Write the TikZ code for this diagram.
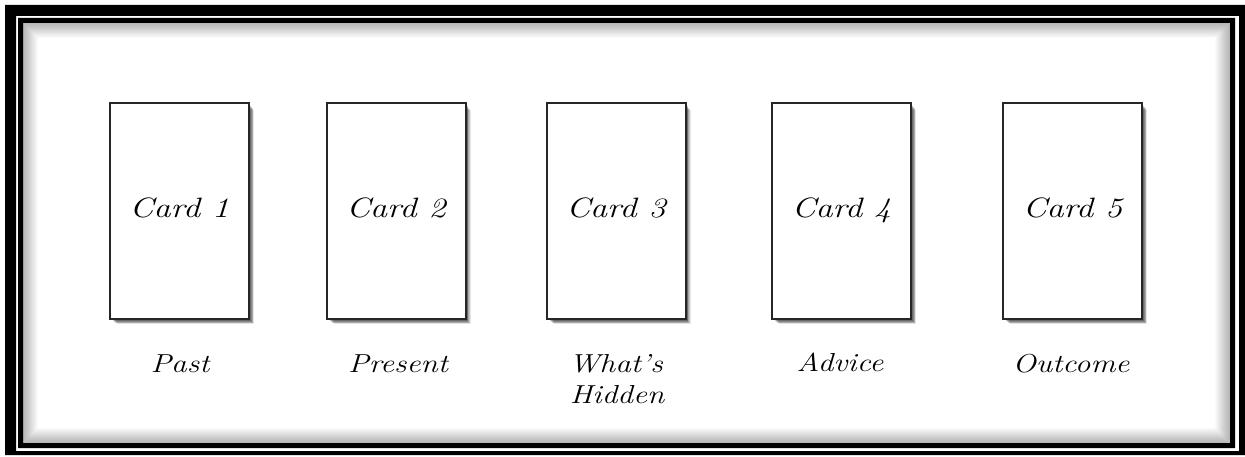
\documentclass[tikz,border=0pt]{standalone}
\usepackage{fontspec}
\begin{document}
\begin{tikzpicture}[x=1pt,y=-1pt,
  cardbox/.style={draw=black!85, line width=2pt, fill=white},
  cardtext/.style={font=\fontsize{28}{30}\selectfont\itshape, anchor=base, inner sep=0pt, xscale=1.22},
  labeltext/.style={font=\fontsize{26}{28}\selectfont\itshape, anchor=base, inner sep=0pt, xscale=1.2}]
\useasboundingbox (0,0) rectangle (1245,457);
\fill[white] (0,0) rectangle (1245,457);
% outer frame
\fill[black,even odd rule] (5,5) rectangle (1245,455) (16,16) rectangle (1239,451);
\fill[black,even odd rule] (18,18) rectangle (1235,448) (23,23) rectangle (1230,443);
% inner shadow
\begin{scope}
\clip (23,23) rectangle (1230,443);
\foreach \w in {2,4,...,30}
  \draw[line width=\w pt, black, opacity=0.018] (23,23) rectangle (1230,443);
\end{scope}
% cards
\foreach \i/\xl in {1/109, 2/325.5, 3/545.5, 4/771, 5/1002} {
  \foreach \d/\o in {8/0.10, 7/0.13, 6/0.16, 5/0.19, 4/0.22, 3/0.2}
    \fill[black, opacity=\o] (\xl+\d,102+\d) rectangle (\xl+139+\d*0.75,318+\d*0.75);
  \node[cardbox, minimum width=139pt, minimum height=216pt, anchor=north west, inner sep=0pt] (c\i) at (\xl,102) {};
  \node[cardtext] (t\i) at ([yshift=-7pt]c\i.center) {Card \i};
}
% labels
\node[labeltext] (l1) at (180,372) {Past};
\node[labeltext] (l2) at (398,372) {Present};
\node[labeltext] (l3a) at (616,372) {What’s};
\node[labeltext] (l3b) at (617,403) {Hidden};
\node[labeltext] (l4) at (840,371) {Advice};
\node[labeltext] (l5) at (1071,372) {Outcome};
\end{tikzpicture}
\end{document}
